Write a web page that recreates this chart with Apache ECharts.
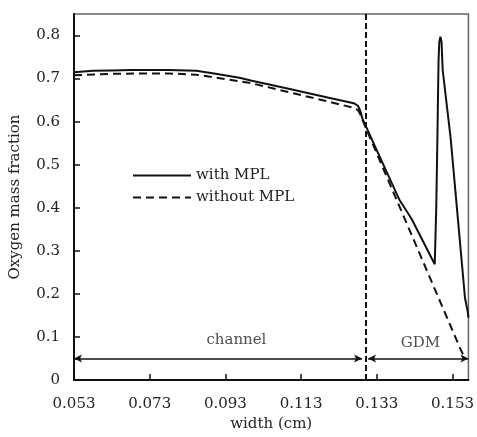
<!DOCTYPE html>
<html>
<head>
<meta charset="utf-8">
<script src="https://cdn.jsdelivr.net/npm/echarts@6/dist/echarts.min.js"></script>
<style>
  html, body { margin: 0; padding: 0; background: #fff; }
  #chart { width: 477px; height: 437px; }
</style>
</head>
<body>
<div id="chart"></div>
<script>
// with MPL (solid)
var xWith = [0.053, 0.058, 0.063, 0.068, 0.073, 0.078, 0.0853, 0.090, 0.0967, 0.100, 0.110, 0.120, 0.1269,
    0.1280, 0.1286, 0.1292, 0.1327, 0.1390, 0.1422, 0.1483, 0.1487, 0.1490, 0.1493, 0.1495, 0.1498,
    0.1501, 0.1504, 0.1525, 0.1539, 0.1563, 0.1570, 0.1572];
var yWith = [0.715, 0.718, 0.719, 0.720, 0.720, 0.720, 0.718, 0.712, 0.702, 0.695, 0.676, 0.656, 0.643,
    0.637, 0.626, 0.607, 0.539, 0.418, 0.374, 0.269, 0.40, 0.56, 0.74, 0.785, 0.797,
    0.785, 0.72, 0.562, 0.425, 0.19, 0.16, 0.145];

// without MPL (dashed)
var xWithout = [0.053, 0.063, 0.073, 0.078, 0.0853, 0.090, 0.0967, 0.100, 0.110, 0.120, 0.1269,
    0.1280, 0.1286, 0.1292, 0.1552, 0.1562];
var yWithout = [0.708, 0.711, 0.712, 0.712, 0.709, 0.703, 0.694, 0.689, 0.668, 0.647, 0.632,
    0.627, 0.618, 0.604, 0.070, 0.052];

var xTicks = [0.053, 0.073, 0.093, 0.113, 0.133, 0.153];
var yTicks = [0, 0.1, 0.2, 0.3, 0.4, 0.5, 0.6, 0.7, 0.8];

var boundaryX = 0.1292;          // channel / GDM interface
var arrowY = 0.05;
var channelRange = [0.053, 0.1291];
var gdmRange = [0.1307, 0.1572];
var regionLabels = [[0.0959, 0.092, 'channel'], [0.1445, 0.086, 'GDM']];

function pairs(xs, ys) {
    return xs.map(function (x, i) { return [x, ys[i]]; });
}

var font = 'DejaVu Serif';
var textColor = '#222';

var myChart = echarts.init(document.getElementById('chart'));
var option = {
    animation: false,
    textStyle: { fontFamily: font },
    grid: {
        left: 74, right: 7, top: 14, bottom: 51,
        show: true, borderColor: '#666', borderWidth: 1.5
    },
    legend: {
        orient: 'vertical',
        left: 127,
        top: 163,
        itemWidth: 58,
        itemHeight: 14,
        itemGap: 7,
        itemStyle: { opacity: 0 },
        data: ['with MPL', 'without MPL'],
        textStyle: { fontFamily: font, fontSize: 15, color: textColor, lineHeight: 14 }
    },
    xAxis: {
        type: 'value',
        min: 0.053,
        max: 0.1572,
        name: 'width (cm)',
        nameLocation: 'middle',
        nameGap: 36,
        nameTextStyle: { fontFamily: font, fontSize: 15, color: textColor },
        splitLine: { show: false },
        axisLine: { lineStyle: { color: '#111', width: 2 } },
        axisTick: { inside: true, length: 6, lineStyle: { color: '#111', width: 1.5 }, customValues: xTicks },
        axisLabel: {
            customValues: xTicks,
            margin: 17,
            fontFamily: font, fontSize: 15, color: textColor,
            formatter: function (v) { return v.toFixed(3); }
        }
    },
    yAxis: {
        type: 'value',
        min: 0,
        max: 0.85,
        name: 'Oxygen mass fraction',
        nameLocation: 'middle',
        nameGap: 51,
        nameTextStyle: { fontFamily: font, fontSize: 15, color: textColor },
        splitLine: { show: false },
        axisLine: { lineStyle: { color: '#111', width: 2 } },
        axisTick: { inside: true, length: 6, lineStyle: { color: '#111', width: 1.5 }, customValues: yTicks },
        axisLabel: {
            customValues: yTicks,
            margin: 14,
            fontFamily: font, fontSize: 15, color: textColor,
            formatter: function (v) { return v === 0 ? '0' : v.toFixed(1); }
        }
    },
    series: [
        {
            name: 'with MPL',
            type: 'line',
            symbol: 'none',
            color: '#111',
            lineStyle: { color: '#111', width: 2 },
            data: pairs(xWith, yWith),
            z: 3,
            markLine: {
                silent: true,
                symbol: 'none',
                label: { show: false },
                lineStyle: { color: '#111', width: 2, type: [6, 3] },
                data: [{ xAxis: boundaryX }]
            }
        },
        {
            name: 'without MPL',
            type: 'line',
            symbol: 'none',
            color: '#111',
            lineStyle: { color: '#111', width: 2, type: [8, 5] },
            data: pairs(xWithout, yWithout),
            z: 3,
            markLine: {
                silent: true,
                symbol: ['arrow', 'arrow'],
                symbolSize: [6, 8],
                label: { show: false },
                lineStyle: { color: '#111', width: 1.5, type: 'solid' },
                data: [
                    [{ coord: [channelRange[0], arrowY] }, { coord: [channelRange[1], arrowY] }],
                    [{ coord: [gdmRange[0], arrowY] }, { coord: [gdmRange[1], arrowY] }]
                ]
            }
        },
        {
            name: 'labels',
            type: 'scatter',
            symbolSize: 0,
            silent: true,
            data: regionLabels,
            label: {
                show: true,
                position: 'inside',
                fontFamily: font, fontSize: 15, color: textColor,
                formatter: function (p) { return p.value[2]; }
            }
        }
    ]
};
myChart.setOption(option);
</script>
</body>
</html>
